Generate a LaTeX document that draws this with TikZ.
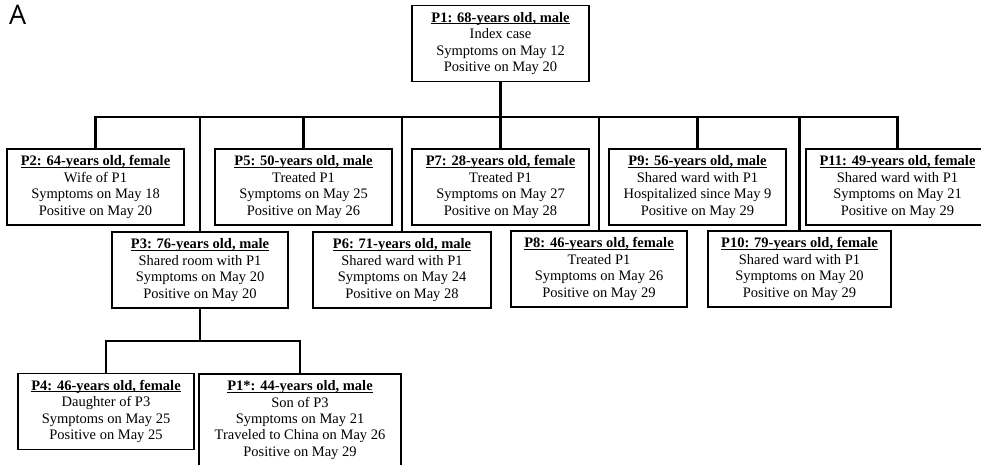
\documentclass[tikz,border=0pt]{standalone}
\usepackage{fontspec}
\setmainfont{Liberation Serif}
\newfontfamily\labelfont{Open Sans}
\newcommand\casetitle[1]{\setbox0=\hbox{\textbf{#1}}\rlap{\raisebox{-1.8pt}{\rule{\wd0}{0.9pt}}}\box0}
\begin{document}
\begin{tikzpicture}[x=1pt,y=-1pt,
  casebox/.style={draw=black, line width=1.5pt, fill=white, align=center,
    inner sep=0pt, minimum height=76pt,
    font=\fontsize{14.5}{16.4}\selectfont},
  link/.style={line width=2.4pt, line cap=rect}
]
\useasboundingbox (0,0) rectangle (981,465);
\clip (0,0) rectangle (981,465);
\node[anchor=north west, inner sep=0pt, font=\labelfont\fontsize{27}{27}\selectfont] (lab) at (9,5) {A};

\node[casebox, minimum width=177pt] (P1) at (500.5,43.5) {\casetitle{P1: 68-years old, male}\\Index case\\Symptoms on May 12\\Positive on May 20};

\node[casebox, minimum width=177pt] (P2) at (95.5,187) {\casetitle{P2: 64-years old, female}\\Wife of P1\\Symptoms on May 18\\Positive on May 20};
\node[casebox, minimum width=177pt] (P5) at (303.5,187) {\casetitle{P5: 50-years old, male}\\Treated P1\\Symptoms on May 25\\Positive on May 26};
\node[casebox, minimum width=177pt] (P7) at (500.5,187) {\casetitle{P7: 28-years old, female}\\Treated P1\\Symptoms on May 27\\Positive on May 28};
\node[casebox, minimum width=177pt] (P9) at (697.5,187) {\casetitle{P9: 56-years old, male}\\Shared ward with P1\\Hospitalized since May 9\\Positive on May 29};
\node[casebox, minimum width=183pt] (P11) at (897.5,187) {\casetitle{P11: 49-years old, female}\\Shared ward with P1\\Symptoms on May 21\\Positive on May 29};

\node[casebox, minimum width=176pt] (P3) at (200,270) {\casetitle{P3: 76-years old, male}\\Shared room with P1\\Symptoms on May 20\\Positive on May 20};
\node[casebox, minimum width=178pt] (P6) at (402,270) {\casetitle{P6: 71-years old, male}\\Shared ward with P1\\Symptoms on May 24\\Positive on May 28};
\node[casebox, minimum width=176pt] (P8) at (599,269) {\casetitle{P8: 46-years old, female}\\Treated P1\\Symptoms on May 26\\Positive on May 29};
\node[casebox, minimum width=183pt] (P10) at (799.5,269) {\casetitle{P10: 79-years old, female}\\Shared ward with P1\\Symptoms on May 20\\Positive on May 29};

\node[casebox, minimum width=176pt] (P4) at (106,411.5) {\casetitle{P4: 46-years old, female}\\Daughter of P3\\Symptoms on May 25\\Positive on May 25};
\node[casebox, minimum width=202pt, minimum height=92pt] (P1s) at (300,420) {\casetitle{P1*: 44-years old, male}\\Son of P3\\Symptoms on May 21\\Traveled to China on May 26\\Positive on May 29};

\coordinate (busL) at (96,117);
\coordinate (busR) at (895,117);
\coordinate (busB) at (200,341);

\draw[link] (busL) -- (busR);
\draw[link] (P1.south) -- (P1.south |- busL);
\foreach \n in {P2,P3,P5,P6,P7,P8,P9,P10,P11}
  \draw[link] (\n.north) -- (\n.north |- busL);

\draw[link] (P3.south) -- (busB);
\draw[link] (P4.north) -- (P4.north |- busB) -- (P1s.north |- busB) -- (P1s.north);
\end{tikzpicture}
\end{document}
